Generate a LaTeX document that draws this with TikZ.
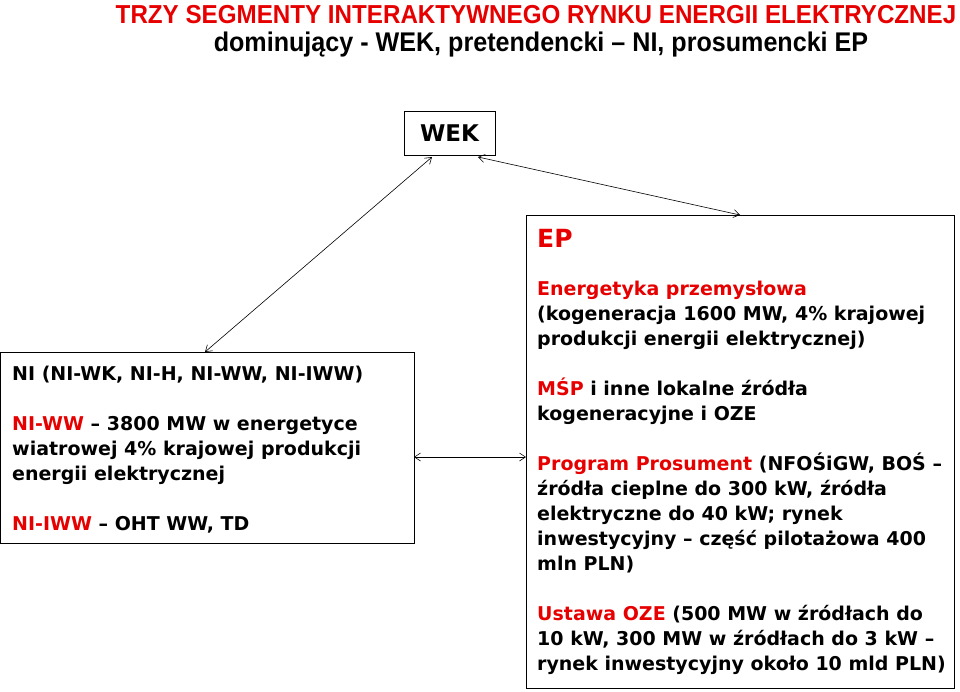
\documentclass[tikz,border=0pt]{standalone}
\usepackage{fontspec}
\setmainfont{DejaVu Sans}
\newfontfamily\titlefont{Liberation Sans}
\usetikzlibrary{arrows.meta}
\definecolor{tred}{RGB}{230,0,0}
\tikzset{
  box/.style={draw=black,line width=1pt,inner sep=0pt},
  body/.style={anchor=north west,align=left,inner sep=0pt,font=\fontsize{19}{25}\selectfont\bfseries},
  link/.style={line width=0.6pt,{Straight Barb[length=6pt,width=8pt]}-{Straight Barb[length=6pt,width=8pt]}},
  ttl/.style={inner sep=0pt,xscale=0.93,font=\titlefont\bfseries\fontsize{26}{30}\selectfont}
}
\begin{document}
\begin{tikzpicture}[x=1pt,y=-1pt]
\useasboundingbox (0,0) rectangle (960,691);
\node[ttl,text=tred] (t1) at (536,15) {TRZY SEGMENTY INTERAKTYWNEGO RYNKU ENERGII ELEKTRYCZNEJ};
\node[ttl,font=\titlefont\bfseries\fontsize{27}{30}\selectfont] (t2) at (541,45) {dominujący - WEK, pretendencki – NI, prosumencki EP};
\node[box,minimum width=91pt,minimum height=44pt,font=\fontsize{23}{26}\selectfont\bfseries] (wek) at (449.5,133) {WEK};
\draw[box] (0,352) rectangle (414,543);
\draw[box] (526,215) rectangle (954,688);
\coordinate (niT) at (205,352);
\coordinate (epT) at (740,215);
\coordinate (niR) at (414,457);
\coordinate (epL) at (526,457);
\coordinate (w1) at (432,157);
\coordinate (w2) at (478,157);
\draw[link] (w1) -- (niT);
\draw[link] (w2) -- (epT);
\draw[link] (niR) -- (epL);
\node[anchor=west,inner sep=0pt,text=tred,font=\fontsize{25}{28}\selectfont\bfseries] (ep) at (537,238) {EP};
\node[body] (ept) at (537,281) {\textcolor{tred}{Energetyka przemysłowa}\\
(kogeneracja 1600 MW, 4\% krajowej\\
produkcji energii elektrycznej)\\[25pt]
\textcolor{tred}{MŚP} i inne lokalne źródła\\
kogeneracyjne i OZE\\[25pt]
\textcolor{tred}{Program Prosument} (NFOŚiGW, BOŚ –\\
źródła cieplne do 300 kW, źródła\\
elektryczne do 40 kW; rynek\\
inwestycyjny – część pilotażowa 400\\
mln PLN)\\[25pt]
\textcolor{tred}{Ustawa OZE} (500 MW w źródłach do\\
10 kW, 300 MW w źródłach do 3 kW –\\
rynek inwestycyjny około 10 mld PLN)};
\node[body] (nit) at (12,366) {NI (NI-WK, NI-H, NI-WW, NI-IWW)\\[25pt]
\textcolor{tred}{NI-WW} – 3800 MW w energetyce\\
wiatrowej 4\% krajowej produkcji\\
energii elektrycznej\\[25pt]
\textcolor{tred}{NI-IWW} – OHT WW, TD};
\end{tikzpicture}
\end{document}
